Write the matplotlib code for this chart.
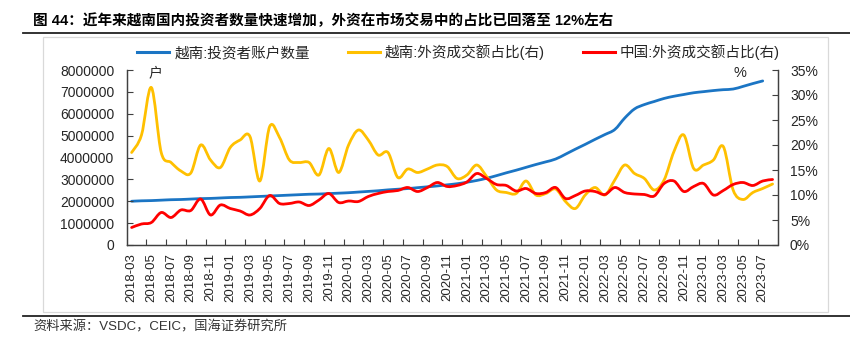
import numpy as np
import matplotlib
matplotlib.use('Agg')
from matplotlib import pyplot as plt
from matplotlib.path import Path
from matplotlib.patches import PathPatch, Rectangle
from matplotlib.lines import Line2D

plt.rcParams['font.family'] = ['Liberation Sans', 'Noto Sans CJK SC', 'DejaVu Sans']

# 月份 2018-03 ... 2023-08
months = ['%d-%02d' % (2018 + (m + 2) // 12, (m + 2) % 12 + 1) for m in range(66)]

# 越南:投资者账户数量 (户), 至 2023-07
vn_accounts = [2.00, 2.02, 2.03, 2.05, 2.07, 2.08, 2.10, 2.12, 2.13, 2.15,
               2.17, 2.18, 2.20, 2.22, 2.24, 2.26, 2.28, 2.30, 2.32, 2.33,
               2.35, 2.37, 2.39, 2.42, 2.45, 2.48, 2.52, 2.55, 2.58, 2.62,
               2.66, 2.70, 2.75, 2.80, 2.87, 2.95, 3.05, 3.17, 3.30, 3.42,
               3.55, 3.68, 3.80, 3.93, 4.15, 4.38, 4.60, 4.83, 5.05, 5.28,
               5.80, 6.22, 6.42, 6.56, 6.70, 6.80, 6.88, 6.96, 7.01, 7.06,
               7.10, 7.13, 7.25, 7.38, 7.50]
vn_accounts = [v * 1e6 for v in vn_accounts]

# 越南:外资成交额占比 (%)
vn_foreign = [18.5, 22.0, 31.5, 18.5, 16.5, 14.8, 14.4, 20.0, 17.0, 15.5,
              19.5, 21.0, 21.7, 12.8, 23.7, 21.5, 17.0, 16.5, 16.5, 14.0,
              19.3, 14.5, 20.0, 23.0, 21.0, 18.0, 18.5, 13.5, 15.2, 14.5,
              15.2, 16.0, 15.7, 13.3, 14.0, 16.0, 13.7, 11.0, 10.5, 10.3,
              12.8, 10.0, 10.3, 11.2, 8.7, 7.3, 10.0, 11.5, 10.0, 13.0,
              16.0, 14.3, 13.3, 11.0, 13.0, 18.7, 22.0, 15.3, 16.0, 17.0,
              19.7, 11.0, 9.1, 10.5, 11.3, 12.2]

# 中国:外资成交额占比 (%)
cn_foreign = [3.5, 4.2, 4.5, 6.5, 5.5, 7.0, 6.9, 9.2, 6.0, 8.0,
              7.3, 6.8, 6.0, 7.3, 9.9, 8.3, 8.3, 8.6, 7.9, 9.0,
              10.3, 8.5, 8.8, 8.7, 9.7, 10.3, 10.7, 10.9, 11.5, 10.7,
              11.5, 12.5, 11.7, 11.9, 12.6, 14.3, 13.3, 12.1, 11.9, 10.8,
              11.3, 10.3, 10.5, 11.5, 9.3, 9.9, 10.8, 10.7, 10.1, 11.5,
              10.5, 10.2, 10.1, 9.8, 12.3, 12.8, 10.7, 11.7, 12.3, 10.0,
              10.9, 12.1, 12.5, 11.9, 12.8, 13.1]

names = ['越南:投资者账户数量', '越南:外资成交额占比(右)', '中国:外资成交额占比(右)']
colors = ['#1B75C4', '#FFC000', '#FF0000']

W, H = 850, 338
fig = plt.figure(figsize=(W / 100, H / 100), dpi=100)
fx = lambda px: px / W
fy = lambda py: 1 - py / H


def smooth(a, y, **kw):
    # Excel风格平滑线 (Catmull-Rom -> Bezier)
    P = np.column_stack([np.arange(len(y)), y]).astype(float)
    n = len(P)
    verts, codes = [P[0]], [Path.MOVETO]
    for k in range(n - 1):
        p0, p1, p2, p3 = P[max(k - 1, 0)], P[k], P[k + 1], P[min(k + 2, n - 1)]
        verts += [p1 + (p2 - p0) / 6, p2 - (p3 - p1) / 6, p2]
        codes += [Path.CURVE4] * 3
    a.add_patch(PathPatch(Path(verts, codes), fill=False, capstyle='round',
                          joinstyle='round', **kw))


ax = fig.add_axes([fx(126.7), fy(245), fx(777.5 - 126.7), (245 - 70) / H])
ax2 = ax.twinx()
ax.set_zorder(1)
ax2.set_zorder(2)
ax.patch.set_visible(False)
ax2.patch.set_visible(False)

smooth(ax, vn_accounts, edgecolor=colors[0], lw=2.0)
smooth(ax2, vn_foreign, edgecolor=colors[1], lw=2.0)
smooth(ax2, cn_foreign, edgecolor=colors[2], lw=2.0)

ax.set_xlim(-0.5, len(months) - 0.5)
ax.set_ylim(0, 8e6)
ax2.set_ylim(0, 35)

axc = '#404040'
for a in (ax, ax2):
    for s in a.spines.values():
        s.set_color(axc)
        s.set_linewidth(0.9)
    a.spines['top'].set_visible(False)

ax.set_yticks(np.arange(0, 8e6 + 1, 1e6))
ax.set_yticklabels(['%d' % v for v in np.arange(0, 8e6 + 1, 1e6)])
ax2.set_yticks(np.arange(0, 36, 5))
ax2.set_yticklabels(['%d%%' % v for v in np.arange(0, 36, 5)])
ax.tick_params(axis='y', direction='in', length=4, width=0.8, color=axc,
               labelsize=10, pad=9, labelcolor='#262626')
ax2.tick_params(axis='y', direction='in', length=4, width=0.8, color=axc,
                labelsize=10, pad=9, labelcolor='#262626')

ax.set_xticks(np.arange(0, len(months), 2))
ax.set_xticklabels(months[::2], rotation=90)
ax.set_xticks(np.arange(1.5, len(months) - 1, 2), minor=True)
ax.tick_params(axis='x', which='major', length=0, labelsize=9.5, pad=6,
               labelcolor='#262626')
ax.tick_params(axis='x', which='minor', direction='in', length=4, width=0.8,
               color=axc)

ax.text(fx(155), fy(73), '户', transform=fig.transFigure, ha='center',
        va='center', fontsize=10, color='#262626')
ax.text(fx(740), fy(73), '%', transform=fig.transFigure, ha='center',
        va='center', fontsize=10.5, color='#262626')

handles = [Line2D([], [], color=c, lw=2.2) for c in colors]
fig.legend(handles, names, ncol=3, loc='center left',
           bbox_to_anchor=(fx(137), fy(52)), frameon=False, fontsize=10.5,
           handlelength=2.2, handletextpad=0.35, columnspacing=2.6,
           borderpad=0, borderaxespad=0, labelcolor='#262626')

# 标题、边框、来源
fig.text(fx(33), fy(21), '图 44：近年来越南国内投资者数量快速增加，外资在市场交易中的占比已回落至 12%左右',
         fontsize=10.5, fontweight='bold', va='center', ha='left', color='black')
fig.add_artist(Line2D([fx(22.7), 1], [fy(32.5), fy(32.5)], color='#222222', lw=1.3))
fig.add_artist(Line2D([fx(22.7), 1], [fy(315.7), fy(315.7)], color='#222222', lw=1.3))
fig.add_artist(Rectangle((fx(43), fy(311.7)), fx(828 - 43), (311.7 - 37.3) / H,
                         transform=fig.transFigure, fill=False,
                         edgecolor='#D9D9D9', lw=0.9))
fig.text(fx(33), fy(327), '资料来源：VSDC，CEIC，国海证券研究所', fontsize=9.5,
         va='center', ha='left', color='#333333')

plt.savefig('out.png', dpi=100)
